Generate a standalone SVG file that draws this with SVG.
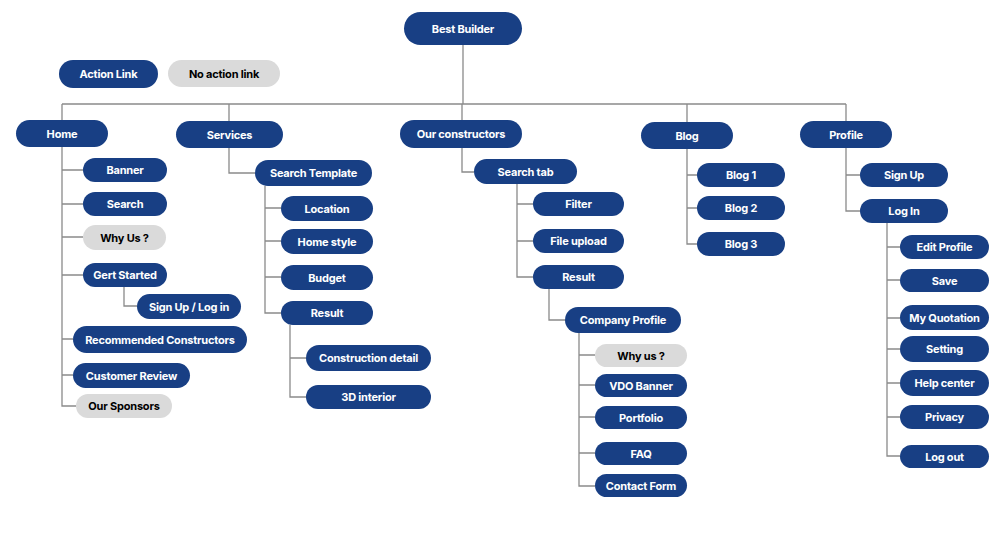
<svg xmlns="http://www.w3.org/2000/svg" width="1006" height="538" viewBox="0 0 1006 538">
<style>
.a{fill:#183f84}.n{fill:#dadada}
text{font-family:Inter,"Liberation Sans",sans-serif;font-weight:700;font-size:11px;text-anchor:middle;dominant-baseline:central;letter-spacing:-0.2px}
.a+text{fill:#fff}.n+text{fill:#000}
.c{fill:none;stroke:#8a8a8a;stroke-width:1.3}
</style>
<rect width="1006" height="538" fill="#fff"/>
<g id="connectors" class="c">
<path d="M463 45V104M62 104H846M62 104V406H76M62 170H83M62 204H83M62 237H83M62 275H83M124 287V306H137M62 339H73M62 375H73"/>
<path d="M229 104V173H255M265 186V313H281M265 208H281M265 241H281M265 277H281M290 325V397H306M290 358H306"/>
<path d="M462 104V120M462 148V172H474M517 184V277H533M517 204H533M517 241H533M549 289V320H565M579 333V486H595M579 355H595M579 385H595M579 417H595M579 453H595"/>
<path d="M687 104V122M687 149V244H697M687 175H697M687 208H697"/>
<path d="M846 104V121M846 148V211H860M846 175H860M887 223V456H900M887 247H900M887 280H900M887 318H900M887 349H900M887 383H900M887 417H900"/>
</g>
<g id="best"><rect class="a" x="404" y="12" width="118" height="33" rx="16.5"/><text x="463" y="29">Best Builder</text></g>
<g id="legend-action"><rect class="a" x="59" y="60" width="99" height="28" rx="14"/><text x="108.5" y="74">Action Link</text></g>
<g id="legend-noaction"><rect class="n" x="168" y="60" width="112" height="27" rx="13.5"/><text x="224" y="73.5">No action link</text></g>
<g id="home"><rect class="a" x="16" y="120" width="92" height="27" rx="13.5"/><text x="62" y="133.5">Home</text></g>
<g id="banner"><rect class="a" x="83" y="158" width="84" height="24" rx="12"/><text x="125" y="170">Banner</text></g>
<g id="search"><rect class="a" x="83" y="192" width="84" height="24" rx="12"/><text x="125" y="204">Search</text></g>
<g id="whyus"><rect class="n" x="83" y="225" width="83" height="25" rx="12.5"/><text x="124.5" y="237.5">Why Us ?</text></g>
<g id="gert"><rect class="a" x="83" y="263" width="84" height="24" rx="12"/><text x="125" y="275">Gert Started</text></g>
<g id="signuplogin"><rect class="a" x="137" y="294" width="104" height="25" rx="12.5"/><text x="189" y="306.5">Sign Up / Log in</text></g>
<g id="recommended"><rect class="a" x="73" y="326" width="174" height="27" rx="13.5"/><text x="160" y="339.5">Recommended Constructors</text></g>
<g id="review"><rect class="a" x="73" y="363" width="117" height="25" rx="12.5"/><text x="131.5" y="375.5">Customer Review</text></g>
<g id="sponsors"><rect class="n" x="76" y="394" width="96" height="24" rx="12"/><text x="124" y="406">Our Sponsors</text></g>
<g id="services"><rect class="a" x="176" y="121" width="107" height="27" rx="13.5"/><text x="229.5" y="134.5">Services</text></g>
<g id="searchtemplate"><rect class="a" x="255" y="160" width="117" height="26" rx="13"/><text x="313.5" y="173">Search Template</text></g>
<g id="location"><rect class="a" x="281" y="196" width="92" height="25" rx="12.5"/><text x="327" y="208.5">Location</text></g>
<g id="homestyle"><rect class="a" x="281" y="229" width="92" height="25" rx="12.5"/><text x="327" y="241.5">Home style</text></g>
<g id="budget"><rect class="a" x="281" y="265" width="92" height="25" rx="12.5"/><text x="327" y="277.5">Budget</text></g>
<g id="result1"><rect class="a" x="281" y="301" width="92" height="24" rx="12"/><text x="327" y="313">Result</text></g>
<g id="construction"><rect class="a" x="306" y="345" width="125" height="26" rx="13"/><text x="368.5" y="358">Construction detail</text></g>
<g id="interior"><rect class="a" x="306" y="385" width="125" height="24" rx="12"/><text x="368.5" y="397">3D interior</text></g>
<g id="constructors"><rect class="a" x="400" y="120" width="122" height="28" rx="14"/><text x="461" y="134">Our constructors</text></g>
<g id="searchtab"><rect class="a" x="474" y="159" width="103" height="25" rx="12.5"/><text x="525.5" y="171.5">Search tab</text></g>
<g id="filter"><rect class="a" x="533" y="192" width="91" height="24" rx="12"/><text x="578.5" y="204">Filter</text></g>
<g id="fileupload"><rect class="a" x="533" y="229" width="91" height="24" rx="12"/><text x="578.5" y="241">File upload</text></g>
<g id="result2"><rect class="a" x="533" y="265" width="91" height="24" rx="12"/><text x="578.5" y="277">Result</text></g>
<g id="companyprofile"><rect class="a" x="565" y="307" width="116" height="26" rx="13"/><text x="623" y="320">Company Profile</text></g>
<g id="whyus2"><rect class="n" x="595" y="344" width="92" height="23" rx="11.5"/><text x="641" y="355.5">Why us ?</text></g>
<g id="vdobanner"><rect class="a" x="595" y="374" width="92" height="23" rx="11.5"/><text x="641" y="385.5">VDO Banner</text></g>
<g id="portfolio"><rect class="a" x="595" y="406" width="92" height="23" rx="11.5"/><text x="641" y="417.5">Portfolio</text></g>
<g id="faq"><rect class="a" x="595" y="442" width="92" height="23" rx="11.5"/><text x="641" y="453.5">FAQ</text></g>
<g id="contactform"><rect class="a" x="595" y="474" width="92" height="23" rx="11.5"/><text x="641" y="485.5">Contact Form</text></g>
<g id="blog"><rect class="a" x="641" y="122" width="92" height="27" rx="13.5"/><text x="687" y="135.5">Blog</text></g>
<g id="blog1"><rect class="a" x="697" y="163" width="88" height="24" rx="12"/><text x="741" y="175">Blog 1</text></g>
<g id="blog2"><rect class="a" x="697" y="196" width="88" height="24" rx="12"/><text x="741" y="208">Blog 2</text></g>
<g id="blog3"><rect class="a" x="697" y="232" width="88" height="24" rx="12"/><text x="741" y="244">Blog 3</text></g>
<g id="profile"><rect class="a" x="800" y="121" width="92" height="27" rx="13.5"/><text x="846" y="134.5">Profile</text></g>
<g id="signup"><rect class="a" x="860" y="163" width="88" height="24" rx="12"/><text x="904" y="175">Sign Up</text></g>
<g id="login"><rect class="a" x="860" y="199" width="88" height="24" rx="12"/><text x="904" y="211">Log In</text></g>
<g id="editprofile"><rect class="a" x="900" y="235" width="89" height="24" rx="12"/><text x="944.5" y="247">Edit Profile</text></g>
<g id="save"><rect class="a" x="900" y="269" width="89" height="23" rx="11.5"/><text x="944.5" y="280.5">Save</text></g>
<g id="quotation"><rect class="a" x="900" y="305" width="89" height="25" rx="12.5"/><text x="944.5" y="317.5">My Quotation</text></g>
<g id="setting"><rect class="a" x="900" y="336" width="89" height="26" rx="13"/><text x="944.5" y="349">Setting</text></g>
<g id="help"><rect class="a" x="900" y="370" width="89" height="26" rx="13"/><text x="944.5" y="383">Help center</text></g>
<g id="privacy"><rect class="a" x="900" y="405" width="89" height="24" rx="12"/><text x="944.5" y="417">Privacy</text></g>
<g id="logout"><rect class="a" x="900" y="445" width="89" height="23" rx="11.5"/><text x="944.5" y="456.5">Log out</text></g>
</svg>
